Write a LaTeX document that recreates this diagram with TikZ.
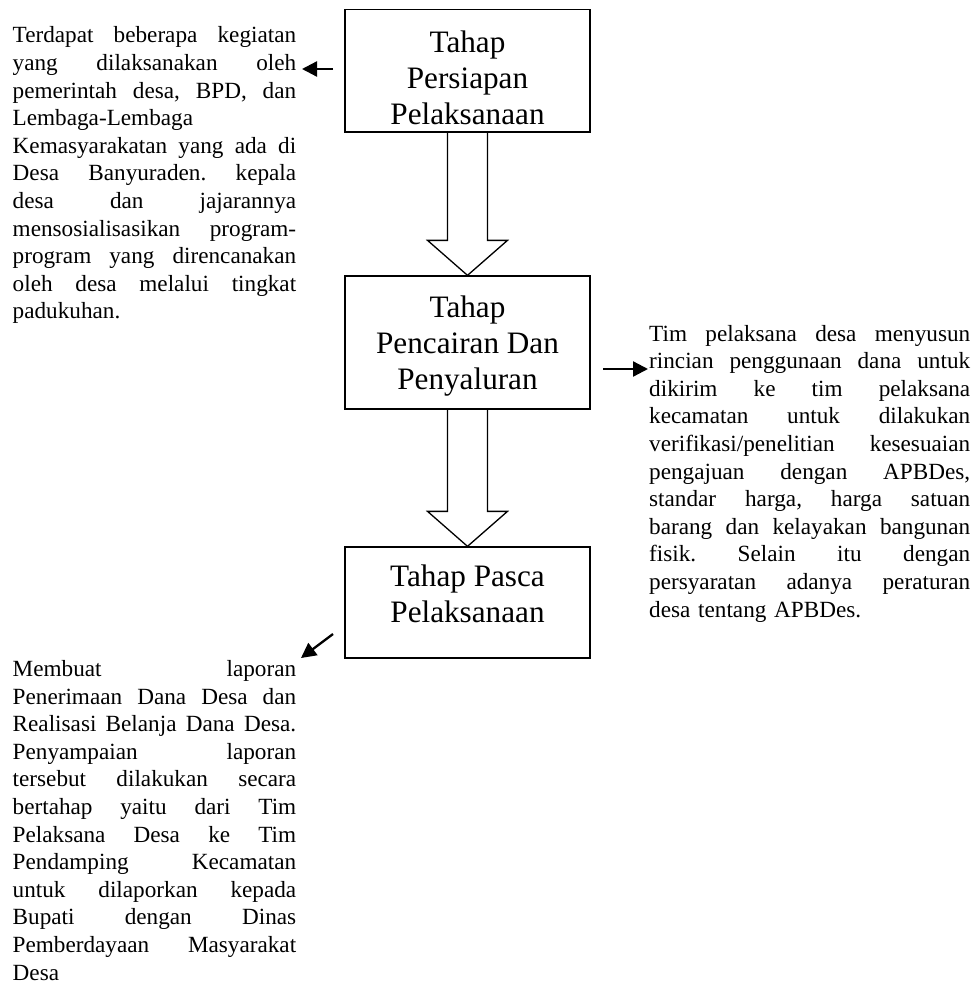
\documentclass[tikz,border=0pt]{standalone}
\usepackage{fontspec}
\setmainfont{Liberation Serif}
\usetikzlibrary{arrows.meta,calc}

% a justified line (spaces stretched to the full width) and a flush-left line
\newcommand\jline[1]{\leavevmode\hbox to \hsize{\frenchspacing
  \spaceskip=0.25em plus 1fil\relax\xspaceskip=\spaceskip #1}}
\newcommand\fline[1]{\leavevmode\hbox to \hsize{#1\hfil}}
% text of a stage box: height, top padding, lines
\newcommand\stagetext[3]{\parbox[c][#1][t]{245pt}{\centering\vspace*{#2}\strut #3}}

\begin{document}
\begin{tikzpicture}[x=1pt,y=-1pt,
  stage/.style={draw, line width=1.3pt, inner sep=0pt,
    font=\fontsize{31.2pt}{36pt}\selectfont},
  note/.style={inner sep=0pt, anchor=base west, align=left,
    font=\fontsize{23.2pt}{27.6pt}\selectfont},
  flow/.style={draw, line width=1.3pt, line join=miter},
  pointer/.style={line width=2.3pt, -{Triangle[length=15pt,width=15pt]}}]

\fill[white] (0,0) rectangle (978,984);
\useasboundingbox (0,0) rectangle (978,984);

% the three stages
\node[stage] (s1) at (467.5,70.6)  {\stagetext{122.7pt}{18.5pt}{Tahap\\Persiapan\\Pelaksanaan}};
\node[stage] (s2) at (467.5,342.5) {\stagetext{133pt}{15.8pt}{Tahap\\Pencairan Dan\\Penyaluran}};
\node[stage] (s3) at (467.5,602.5) {\stagetext{111pt}{13.8pt}{Tahap Pasca\\Pelaksanaan}};

% hollow block arrows between the stages
\draw[flow] ($(s1.south)+(-20,0)$) -- ($(s2.north)+(-20,-35)$) -- ($(s2.north)+(-40,-35)$)
  -- (s2.north) -- ($(s2.north)+(40,-35)$) -- ($(s2.north)+(20,-35)$) -- ($(s1.south)+(20,0)$);
\draw[flow] ($(s2.south)+(-20,0)$) -- ($(s3.north)+(-20,-35)$) -- ($(s3.north)+(-40,-35)$)
  -- (s3.north) -- ($(s3.north)+(40,-35)$) -- ($(s3.north)+(20,-35)$) -- ($(s2.south)+(20,0)$);

% descriptions of each stage
\node[note, text width=283.5pt] (n1) at (12.5,43) {%
\jline{Terdapat beberapa kegiatan}\\
\jline{yang dilaksanakan oleh}\\
\jline{pemerintah desa, BPD, dan}\\
\fline{Lembaga-Lembaga}\\
\jline{Kemasyarakatan yang ada di}\\
\jline{Desa Banyuraden. kepala}\\
\jline{desa dan jajarannya}\\
\jline{mensosialisasikan program-}\\
\jline{program yang direncanakan}\\
\jline{oleh desa melalui tingkat}\\
\fline{padukuhan.}};

\node[note, text width=321pt] (n2) at (649,341) {%
\jline{Tim pelaksana desa menyusun}\\
\jline{rincian penggunaan dana untuk}\\
\jline{dikirim ke tim pelaksana}\\
\jline{kecamatan untuk dilakukan}\\
\jline{verifikasi/penelitian kesesuaian}\\
\jline{pengajuan dengan APBDes,}\\
\jline{standar harga, harga satuan}\\
\jline{barang dan kelayakan bangunan}\\
\jline{fisik. Selain itu dengan}\\
\jline{persyaratan adanya peraturan}\\
\fline{desa tentang APBDes.}};

\node[note, text width=283.5pt] (n3) at (12.5,676.5) {%
\jline{Membuat laporan}\\
\jline{Penerimaan Dana Desa dan}\\
\jline{Realisasi Belanja Dana Desa.}\\
\jline{Penyampaian laporan}\\
\jline{tersebut dilakukan secara}\\
\jline{bertahap yaitu dari Tim}\\
\jline{Pelaksana Desa ke Tim}\\
\jline{Pendamping Kecamatan}\\
\jline{untuk dilaporkan kepada}\\
\jline{Bupati dengan Dinas}\\
\jline{Pemberdayaan Masyarakat}\\
\fline{Desa}};

% pointers from the stages to their descriptions
\coordinate (p1s) at (333,69);
\coordinate (p1e) at (302,69);
\coordinate (p2s) at (603,369);
\coordinate (p2e) at (648,369);
\coordinate (p3s) at (333,634);
\coordinate (p3e) at (301,658);
\draw[pointer] (p1s) -- (p1e);
\draw[pointer] (p2s) -- (p2e);
\draw[pointer] (p3s) -- (p3e);
\end{tikzpicture}
\end{document}
